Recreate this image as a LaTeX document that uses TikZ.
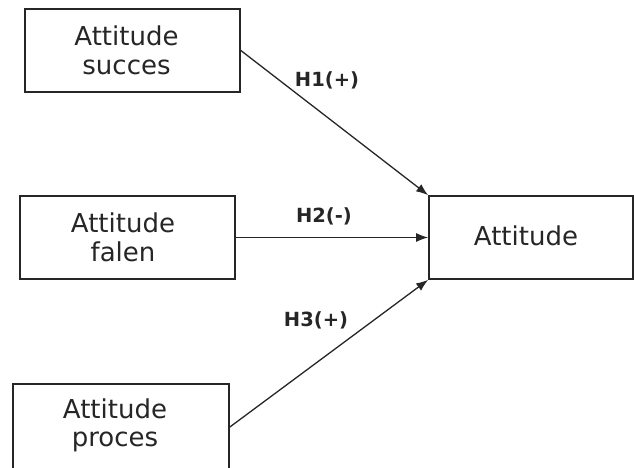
\documentclass[tikz,border=0pt]{standalone}
\usepackage{fontspec}
\setmainfont{DejaVu Sans}
\usetikzlibrary{arrows.meta}
\definecolor{ink}{HTML}{262626}
\tikzset{
  box/.style={draw=ink, line width=1.7pt, minimum width=215pt, minimum height=83pt,
              inner sep=0pt},
  boxtext/.style={text=ink, align=center, inner sep=0pt,
              font=\fontsize{26}{28.5}\selectfont},
  link/.style={draw=ink, line width=1.3pt, -{Latex[length=12pt,width=9pt]}},
  hyp/.style={text=ink, font=\fontsize{19.5}{21}\selectfont\bfseries}
}
\begin{document}
\begin{tikzpicture}[x=1pt,y=1pt]
  \useasboundingbox (0,0) rectangle (634,467);
  % predictor boxes
  \node[box] (succ) at (132.5,416.5) {};
  \node[boxtext] (succtxt) at (126.5,416.5) {Attitude\\succes};
  \node[box] (fal)  at (127.5,229.5) {};
  \node[boxtext] (faltxt) at (123,229.5) {Attitude\\falen};
  \node[box, minimum width=216pt, minimum height=86pt] (proc) at (121,40) {};
  \node[boxtext] (proctxt) at (115,41.5) {Attitude\\proces};
  % outcome box
  \node[box, minimum width=204pt] (att) at (531,229.5) {};
  \node[boxtext] (atttxt) at (526,231) {Attitude};
  % hypothesised paths
  \draw[link] (succ.east) -- (att.north west);
  \draw[link] (fal.east) -- (att.west);
  \draw[link] (proc.east) -- (att.south west);
  \node[hyp] (h1) at (327,387) {H1(+)};
  \node[hyp] (h2) at (324,251) {H2(-)};
  \node[hyp] (h3) at (316,147) {H3(+)};
\end{tikzpicture}
\end{document}
